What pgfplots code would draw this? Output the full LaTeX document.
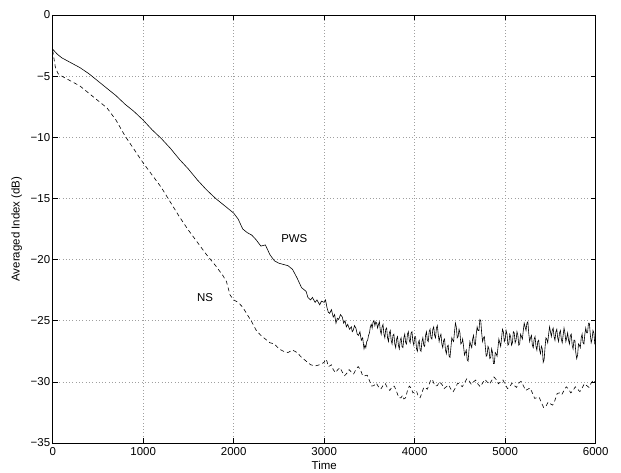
\documentclass[border=0pt]{standalone}
\usepackage{pgfplots}
\pgfplotsset{compat=1.18}
\usepackage{fontspec}
\setmainfont{Liberation Sans}
\begin{document}
\begin{tikzpicture}
\useasboundingbox (-52.7bp,-30bp) rectangle (568.3bp,443bp);
\begin{axis}[
  at={(0,0)}, anchor=south west,
  scale only axis, width=543bp, height=428bp,
  xmin=0, xmax=6000, ymin=-35, ymax=0,
  xtick={0,1000,...,6000},
  ytick={-35,-30,...,0},
  yticklabels={−35,−30,−25,−20,−15,−10,−5,0},
  scaled x ticks=false,
  xticklabel style={/pgf/number format/1000 sep={}},
  /pgf/number format/assume math mode=true,
  tick align=inside,
  major tick length=5bp,
  tick style={black, line width=0.5pt},
  axis line style={black, line width=0.7pt},
  grid=major,
  major grid style={dash pattern=on 0.7bp off 2.6bp, gray!75, line width=0.5pt},
  ticklabel style={font=\fontsize{11.5}{13}\selectfont},
  xticklabel style={yshift=-1bp},
  yticklabel style={xshift=1bp},
  label style={font=\fontsize{11.5}{13}\selectfont},
  xlabel={Time},
  ylabel={Averaged Index (dB)},
  xlabel style={at={(axis description cs:0.5,0)}, anchor=center, yshift=-22bp},
  ylabel style={at={(axis description cs:0,0.5)}, anchor=center, yshift=36bp},
  clip=true,
]
\addplot[black, line width=0.6pt] coordinates {
(0,-2.8) (50,-3.2) (100,-3.5) (200,-3.9) (300,-4.3) (400,-4.8) (500,-5.4) (600,-6.0) (700,-6.6) (800,-7.3) (900,-7.9) (1000,-8.6) (1100,-9.4) (1200,-10.1) (1300,-10.9) (1400,-11.8) (1500,-12.6) (1600,-13.5) (1700,-14.3) (1800,-15.0) (1900,-15.6) (2000,-16.2) (2050,-16.7) (2100,-17.5) (2150,-17.8) (2200,-18.0) (2250,-18.4) (2300,-18.9) (2350,-18.8) (2400,-19.6) (2450,-20.1) (2500,-20.3) (2550,-20.4) (2600,-20.5) (2650,-20.8) (2700,-21.5) (2750,-22.3) (2800,-22.6) (2820,-23.1) (2850,-23.3) (2870,-23.1) (2900,-23.5) (2920,-23.3) (2950,-23.7) (2970,-23.4) (3000,-23.5) (3015,-23.3) (3030,-23.9) (3045,-24.3) (3060,-24.4) (3080,-24.1) (3100,-24.7) (3115,-24.5) (3130,-25.2) (3145,-24.8) (3160,-24.9) (3180,-24.5) (3200,-24.7) (3215,-25.2) (3230,-25.0) (3245,-25.5) (3260,-25.3) (3280,-25.7) (3300,-25.5) (3310,-25.9) (3320,-25.8) (3335,-25.4) (3350,-25.6) (3365,-26.1) (3380,-26.2) (3395,-25.9) (3410,-26.6) (3425,-26.4) (3440,-27.3) (3450,-27.0) (3460,-27.2) (3470,-26.7) (3480,-26.6) (3490,-26.2) (3500,-26.0) (3510,-25.5) (3520,-25.3) (3530,-25.6) (3540,-25.1) (3550,-25.0) (3560,-25.4) (3570,-25.1) (3580,-25.2) (3590,-25.6)
(3600,-25.3) (3610,-25.1) (3620,-25.8) (3630,-26.1) (3640,-25.5) (3650,-25.3) (3660,-26.1) (3670,-26.4) (3680,-25.7) (3690,-25.6) (3700,-26.4) (3710,-26.7) (3720,-26.0) (3730,-25.8) (3740,-26.6) (3750,-26.9) (3760,-26.2) (3770,-26.1) (3780,-26.9) (3790,-27.2) (3800,-26.5) (3810,-26.3) (3820,-27.0) (3830,-27.3) (3840,-26.6) (3850,-26.4) (3860,-27.1) (3870,-27.2) (3880,-26.4) (3890,-26.1) (3900,-26.8) (3910,-26.9) (3920,-26.1) (3930,-25.9) (3940,-26.6) (3950,-26.8) (3960,-26.0) (3970,-25.9) (3980,-26.7) (3990,-27.0) (4000,-26.3) (4010,-26.3) (4020,-27.3) (4030,-27.5) (4040,-26.8) (4050,-26.6) (4060,-27.4) (4070,-27.5) (4080,-26.7) (4090,-26.4) (4100,-27.0) (4110,-27.1) (4120,-26.2) (4130,-25.9) (4140,-26.6) (4150,-26.7) (4160,-25.9) (4170,-25.7) (4180,-26.4) (4190,-26.5) (4200,-25.7) (4210,-25.5) (4220,-26.2) (4230,-26.4) (4240,-25.6) (4250,-25.4) (4260,-26.1) (4270,-26.7) (4280,-26.3) (4290,-26.1) (4300,-26.9) (4310,-27.2) (4320,-26.6) (4330,-26.5) (4340,-27.4) (4350,-27.7) (4360,-27.1) (4370,-27.0) (4380,-27.9) (4390,-28.0) (4400,-27.2) (4410,-26.4) (4420,-26.6) (4430,-26.7) (4440,-25.9) (4450,-25.2) (4460,-25.5) (4470,-26.4) (4480,-26.3) (4490,-25.7) (4500,-26.0) (4510,-26.9) (4520,-26.8) (4530,-26.5) (4540,-27.1) (4550,-27.8) (4560,-27.6) (4570,-27.4) (4580,-28.2) (4590,-28.3) (4600,-27.4) (4610,-26.7) (4620,-27.0) (4630,-27.2) (4640,-26.5) (4650,-26.2) (4660,-26.9) (4670,-27.0) (4680,-26.1) (4690,-25.5) (4700,-25.8) (4710,-25.8) (4720,-24.9) (4730,-25.0) (4740,-26.0) (4750,-26.7) (4760,-26.4) (4770,-26.3) (4780,-27.1) (4790,-27.9) (4800,-27.8) (4810,-27.1) (4820,-27.3) (4830,-28.1) (4840,-28.0) (4850,-27.3) (4860,-27.6) (4870,-28.5) (4880,-28.5) (4890,-27.6) (4900,-27.7) (4910,-27.9) (4920,-27.2) (4930,-26.5) (4940,-26.8) (4950,-27.1) (4960,-26.4) (4970,-25.7) (4980,-25.9) (4990,-26.7) (5000,-26.5) (5010,-25.8) (5020,-26.1) (5030,-27.0) (5040,-26.9) (5050,-26.1) (5060,-26.3) (5070,-27.0) (5080,-26.8) (5090,-25.9) (5100,-26.0) (5110,-26.8) (5120,-26.6) (5130,-25.9) (5140,-26.2) (5150,-27.0) (5160,-26.9) (5170,-26.1) (5180,-26.3) (5190,-26.5) (5200,-25.8) (5210,-25.2) (5220,-25.5) (5230,-25.8) (5240,-25.2) (5250,-25.1) (5260,-26.0) (5270,-26.7) (5280,-26.4) (5290,-26.2) (5300,-27.0) (5310,-27.2) (5320,-26.5) (5330,-26.3) (5340,-27.1) (5350,-27.4) (5360,-26.7) (5370,-26.6) (5380,-27.4) (5390,-27.7) (5400,-27.1) (5410,-27.3) (5420,-28.4) (5430,-28.2) (5440,-27.2) (5450,-26.4) (5460,-26.5) (5470,-26.8) (5480,-26.1) (5490,-25.5) (5500,-25.9) (5510,-26.3) (5520,-25.8) (5530,-25.6) (5540,-26.3) (5550,-26.6) (5560,-25.9) (5570,-25.7) (5580,-26.4) (5590,-26.7) (5600,-26.0) (5610,-25.8) (5620,-26.5) (5630,-26.8) (5640,-26.2) (5650,-25.6) (5660,-26.0) (5670,-26.7) (5680,-26.4) (5690,-26.0) (5700,-26.6) (5710,-26.9) (5720,-26.2) (5730,-26.1) (5740,-27.0) (5750,-27.3) (5760,-26.6) (5770,-26.6) (5780,-27.6) (5790,-28.1) (5800,-27.8) (5810,-26.9) (5820,-27.0) (5830,-27.2) (5840,-26.4) (5850,-26.1) (5860,-26.8) (5870,-26.9) (5880,-26.1) (5890,-25.6) (5900,-26.0) (5910,-26.0) (5920,-25.2) (5930,-25.2) (5940,-26.1) (5950,-26.8) (5960,-26.5) (5970,-25.8) (5980,-26.0) (5990,-26.9) (6000,-27.0)
};
\addplot[black, line width=0.6pt, dash pattern=on 4bp off 3bp] coordinates {
(0,-2.9) (15,-3.6) (30,-4.3) (60,-4.8) (100,-5.0) (200,-5.4) (300,-5.8) (400,-6.4) (500,-7.0) (600,-7.6) (700,-8.6) (800,-9.9) (900,-11.0) (1000,-12.1) (1100,-13.1) (1200,-14.1) (1300,-15.3) (1400,-16.5) (1500,-17.6) (1600,-18.6) (1700,-19.6) (1800,-20.5) (1880,-21.3) (1920,-21.8) (1960,-22.9) (2000,-23.3) (2050,-23.5) (2100,-23.9) (2150,-24.5) (2200,-25.1) (2250,-25.8) (2300,-26.2) (2350,-26.5) (2400,-26.8) (2450,-26.9) (2500,-27.3) (2550,-27.5) (2600,-27.6) (2650,-27.4) (2700,-27.6) (2750,-28.0) (2800,-28.3) (2850,-28.6) (2900,-28.7) (2950,-28.6)
(3000,-28.4) (3015,-28.15) (3030,-28.3) (3045,-28.75) (3060,-28.7) (3080,-28.6) (3100,-29.0) (3125,-29.25) (3150,-29.0) (3175,-28.85) (3200,-29.2) (3225,-29.5) (3250,-29.3) (3275,-29.0) (3300,-29.2) (3325,-29.35) (3350,-29.0) (3375,-28.75) (3400,-29.0) (3425,-29.5) (3450,-29.5) (3475,-29.45) (3500,-29.9) (3525,-30.35) (3550,-30.3) (3575,-30.1) (3600,-30.4) (3625,-30.6) (3650,-30.3) (3675,-30.15) (3700,-30.5) (3725,-30.7) (3750,-30.4) (3775,-30.35) (3800,-30.8) (3825,-31.3) (3850,-31.3) (3865,-31.1) (3880,-31.4) (3900,-31.3) (3920,-30.7) (3940,-30.35) (3960,-30.5) (3980,-30.9) (4000,-30.8) (4020,-30.75) (4040,-31.2) (4060,-31.3) (4080,-30.9) (4100,-30.45) (4120,-30.5) (4140,-30.6) (4160,-30.2) (4180,-29.8) (4200,-29.9) (4225,-30.35) (4250,-30.3) (4275,-30.0) (4300,-30.2) (4325,-30.55) (4350,-30.4) (4375,-30.25) (4400,-30.6) (4425,-30.8) (4450,-30.5) (4475,-30.1) (4500,-30.2) (4525,-30.4) (4550,-30.1) (4575,-29.75) (4600,-29.9) (4625,-30.2) (4650,-30.0) (4675,-29.85) (4700,-30.2) (4725,-30.4) (4750,-30.1) (4775,-29.8) (4800,-30.0) (4825,-30.2) (4850,-29.9) (4875,-29.6) (4900,-29.8) (4925,-30.15) (4950,-30.0) (4975,-29.85) (5000,-30.2) (5025,-30.55) (5050,-30.4) (5075,-30.1) (5100,-30.3) (5125,-30.45) (5150,-30.1) (5175,-29.95) (5200,-30.3) (5225,-30.7) (5250,-30.6) (5275,-30.5) (5300,-30.9) (5325,-31.35) (5350,-31.3) (5375,-31.25) (5400,-31.7) (5425,-32.1) (5450,-32.0) (5475,-31.65) (5500,-31.8) (5525,-31.9) (5550,-31.5) (5575,-30.95) (5600,-30.9) (5625,-31.05) (5650,-30.7) (5675,-30.4) (5700,-30.6) (5725,-30.9) (5750,-30.7) (5775,-30.4) (5800,-30.6) (5825,-30.8) (5850,-30.5) (5875,-30.15) (5900,-30.3) (5925,-30.45) (5950,-30.1) (5975,-29.85) (6000,-30.1)
};
\node[font=\fontsize{11.5}{13}\selectfont] at (axis cs:2670,-18.3) {PWS};
\node[font=\fontsize{11.5}{13}\selectfont] at (axis cs:1683,-23.1) {NS};
\end{axis}
\end{tikzpicture}
\end{document}
